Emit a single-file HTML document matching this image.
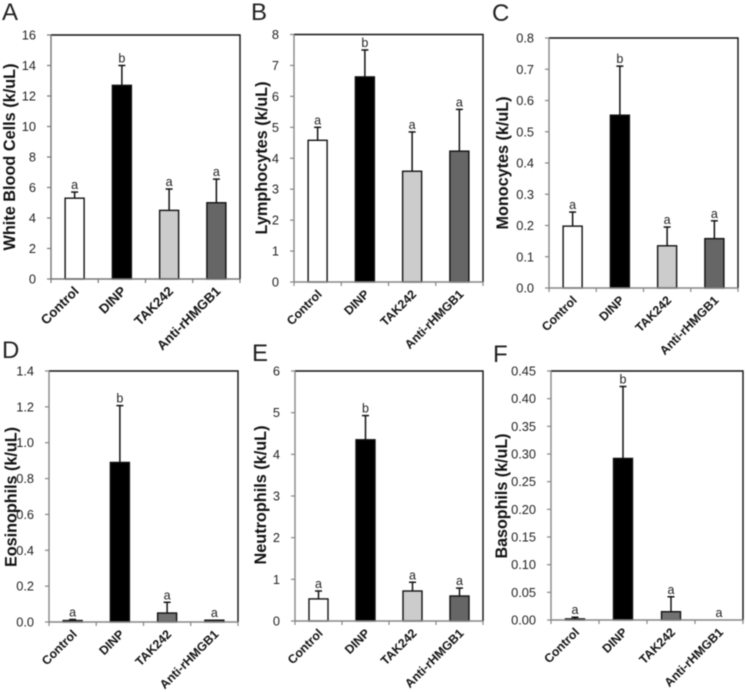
<!DOCTYPE html>
<html lang="en">
<head>
<meta charset="utf-8">
<title>Blood cell counts by treatment</title>
<style>
html,body{margin:0;padding:0;background:#fff;width:746px;height:692px;overflow:hidden}
svg{display:block;filter:blur(0.5px)}
text{font-family:"Liberation Sans",Arial,sans-serif}
</style>
</head>
<body>
<svg id="figure" xmlns="http://www.w3.org/2000/svg" width="746" height="692" viewBox="0 0 746 692">
<defs>
<pattern id="dots" width="2" height="2" patternUnits="userSpaceOnUse">
<rect width="2" height="2" fill="#b0b0b0"/>
<rect width="1" height="1" fill="#333"/>
<rect x="1" y="1" width="1" height="1" fill="#333"/>
</pattern>
</defs>
</svg>
<script>
var categories = ['Control', 'DINP', 'TAK242', 'Anti-rHMGB1'];

var wbcValues = [5.3, 12.7, 4.5, 5.0];
var wbcUpper = [5.7, 14.0, 5.9, 6.55];
var wbcTicks = ['0', '2', '4', '6', '8', '10', '12', '14', '16'];
var wbcSig = ['a', 'b', 'a', 'a'];

var lymphValues = [4.58, 6.63, 3.58, 4.23];
var lymphUpper = [5.0, 7.5, 4.85, 5.58];
var lymphTicks = ['0', '1', '2', '3', '4', '5', '6', '7', '8'];
var lymphSig = ['a', 'b', 'a', 'a'];

var monoValues = [0.198, 0.553, 0.135, 0.158];
var monoUpper = [0.243, 0.71, 0.195, 0.215];
var monoTicks = ['0.0', '0.1', '0.2', '0.3', '0.4', '0.5', '0.6', '0.7', '0.8'];
var monoSig = ['a', 'b', 'a', 'a'];

var eosValues = [0.008, 0.89, 0.05, 0.01];
var eosUpper = [0.014, 1.207, 0.11, 0.01];
var eosTicks = ['0.0', '0.2', '0.4', '0.6', '0.8', '1.0', '1.2', '1.4'];
var eosSig = ['a', 'b', 'a', 'a'];

var neutValues = [0.53, 4.35, 0.72, 0.6];
var neutUpper = [0.72, 4.93, 0.93, 0.79];
var neutTicks = ['0', '1', '2', '3', '4', '5', '6'];
var neutSig = ['a', 'b', 'a', 'a'];

var basoValues = [0.002, 0.292, 0.015, 0];
var basoUpper = [0.005, 0.422, 0.042, 0];
var basoTicks = ['0.00', '0.05', '0.10', '0.15', '0.20', '0.25', '0.30', '0.35', '0.40', '0.45'];
var basoSig = ['a', 'b', 'a', 'a'];

var panels = [
  {id:'a', letter:'A', lx:2, ly:20, l:51, r:240, t:35, b:279, title:'White Blood Cells (k/uL)', tx:10, ty:157, tl:187, xf:13.3, v:wbcValues, u:wbcUpper, k:wbcTicks, s:wbcSig, tak:'#cccccc', anti:'#666666', axis:'#777'},
  {id:'b', letter:'B', lx:251, ly:20, l:294, r:483, t:34.5, b:282, title:'Lymphocytes (k/uL)', tx:262, ty:158, tl:153, xf:12.3, v:lymphValues, u:lymphUpper, k:lymphTicks, s:lymphSig, tak:'#cccccc', anti:'#666666', axis:'#868686'},
  {id:'c', letter:'C', lx:492, ly:21, l:549, r:738, t:38, b:288, title:'Monocytes (k/uL)', tx:503, ty:163, tl:133, xf:12.3, v:monoValues, u:monoUpper, k:monoTicks, s:monoSig, tak:'#cccccc', anti:'#666666', axis:'#868686'},
  {id:'d', letter:'D', lx:2, ly:358, l:49, r:238, t:371, b:622, title:'Eosinophils (k/uL)', tx:11.5, ty:497, tl:140, xf:12.3, v:eosValues, u:eosUpper, k:eosTicks, s:eosSig, tak:'url(#dots)', anti:'#666666', axis:'#868686'},
  {id:'e', letter:'E', lx:252, ly:361, l:295, r:483, t:371, b:621, title:'Neutrophils (k/uL)', tx:261, ty:495, tl:139, xf:12.3, v:neutValues, u:neutUpper, k:neutTicks, s:neutSig, tak:'#cccccc', anti:'#666666', axis:'#868686'},
  {id:'f', letter:'F', lx:493, ly:362, l:551, r:743, t:371, b:620, title:'Basophils (k/uL)', tx:502, ty:496, tl:125, xf:12.3, v:basoValues, u:basoUpper, k:basoTicks, s:basoSig, tak:'url(#dots)', anti:'#666666', axis:'#868686'}
];

var svg = document.getElementById('figure');
var NS = 'http://www.w3.org/2000/svg';

function make(parent, tag, attrs, content) {
  var node = document.createElementNS(NS, tag);
  for (var key in attrs) { node.setAttribute(key, attrs[key]); }
  if (content !== undefined) { node.textContent = content; }
  parent.appendChild(node);
  return node;
}

function slug(text) {
  return text.toLowerCase().replace(/[^a-z0-9]+/g, '-');
}

panels.forEach(function (p) {
  var g = make(svg, 'g', {});
  
  

  var yMax = parseFloat(p.k[p.k.length - 1]);
  var yMin = parseFloat(p.k[0]);
  function yScale(val) { return p.b - (val - yMin) / (yMax - yMin) * (p.b - p.t); }
  var step = (p.r - p.l) / categories.length;
  function xScale(i) { return p.l + step * (i + 0.5); }
  var barW = 19;

  var letter = make(g, 'text', {x:p.lx, y:p.ly, 'font-size':24, fill:'#222'}, p.letter);
  
  

  var frameTop = make(g, 'path', {d:'M' + p.l + ' ' + p.t + 'H' + p.r + 'V' + p.b, fill:'none', stroke:'#111', 'stroke-width':1.4});
  
  

  var yAxis = make(g, 'line', {x1:p.l, x2:p.l, y1:p.t, y2:p.b, stroke:p.axis, 'stroke-width':1.4});
  
  

  p.k.forEach(function (label) {
    var y = yScale(parseFloat(label));
    var tick = make(g, 'line', {x1:p.l - 4, x2:p.l, y1:y, y2:y, stroke:p.axis, 'stroke-width':1.2});
    
    
    var text = make(g, 'text', {x:p.l - 15, y:y + 4.5, 'font-size':12.8, 'text-anchor':'end', fill:'#222'}, label);
    
    
  });

  var fills = ['#ffffff', '#000000', p.tak, p.anti];
  categories.forEach(function (cat, i) {
    var cx = xScale(i);
    var top = yScale(p.v[i]);
    var up = yScale(p.u[i]);

    var stem = make(g, 'line', {x1:cx, x2:cx, y1:up, y2:top, stroke:'#111', 'stroke-width':1.5});
    
    
    if (p.u[i] > p.v[i]) {
      var cap = make(g, 'line', {x1:cx - 3.5, x2:cx + 3.5, y1:up, y2:up, stroke:'#111', 'stroke-width':1.5});
      
      
    }

    if (p.v[i] > 0) {
      var bar = make(g, 'rect', {x:cx - barW / 2, y:top, width:barW, height:p.b - top, fill:fills[i], stroke:'#111', 'stroke-width':1.4});
      
      
    }

    var sig = make(g, 'text', {x:cx, y:up - 3, 'font-size':12.5, 'text-anchor':'middle', fill:'#222'}, p.s[i]);
    
    

    var lx = cx + 5;
    var ly = p.b + 13;
    var label = make(g, 'text', {x:lx, y:ly, 'font-size':p.xf, 'font-weight':'bold', 'text-anchor':'end', fill:'#111', transform:'rotate(-45 ' + lx + ' ' + ly + ')'}, cat);
    
    
  });

  var xAxis = make(g, 'line', {x1:p.l, x2:p.r, y1:p.b, y2:p.b, stroke:p.axis, 'stroke-width':1.4});
  
  

  for (var n = 0; n <= categories.length; n++) {
    var tx = p.l + step * n;
    var xTick = make(g, 'line', {x1:tx, x2:tx, y1:p.b, y2:p.b + 4, stroke:p.axis, 'stroke-width':1.2});
    
    
  }

  var title = make(g, 'text', {x:p.tx, y:p.ty, 'font-size':16.5, 'font-weight':'bold', 'text-anchor':'middle', 'dominant-baseline':'central', fill:'#111', textLength:p.tl, lengthAdjust:'spacingAndGlyphs', transform:'rotate(-90 ' + p.tx + ' ' + p.ty + ')'}, p.title);
  
  
});
</script>
</body>
</html>
